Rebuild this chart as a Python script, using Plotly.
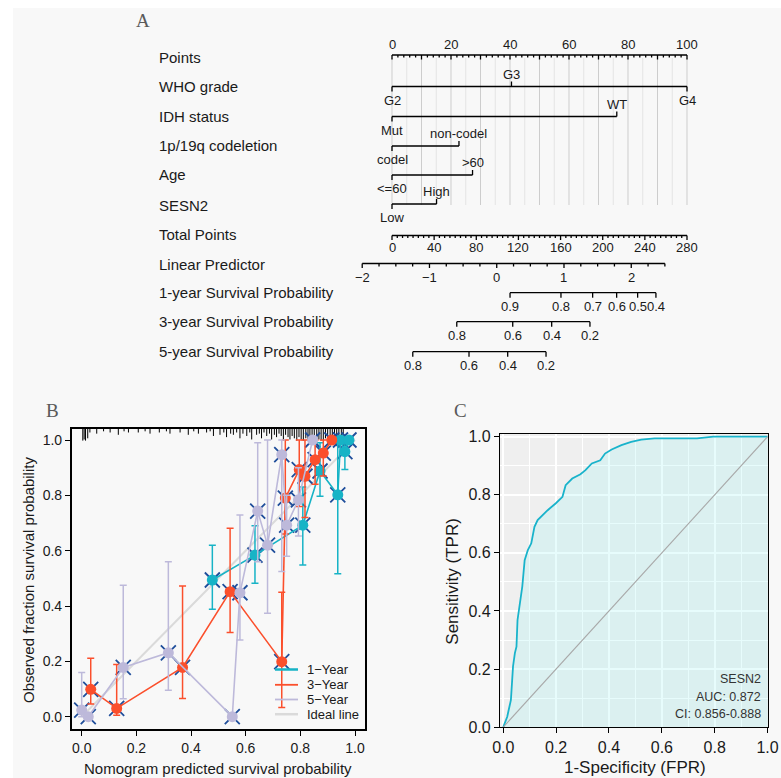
import plotly.graph_objects as go

W, H = 781, 778
FONT = "Liberation Sans, Arial, sans-serif"
SERIF = "Liberation Serif, Times New Roman, serif"
TXT = "#1a1a1a"

# ---------------- Panel A : nomogram data ----------------
row_names = ["Points", "WHO grade", "IDH status", "1p/19q codeletion", "Age", "SESN2",
             "Total Points", "Linear Predictor", "1-year Survival Probability",
             "3-year Survival Probability", "5-year Survival Probability"]
row_label_y = [57, 86, 116, 145, 174, 205, 234, 264, 292, 321.5, 351]

points_labels = [0, 20, 40, 60, 80, 100]

who_levels = ["G2", "G3", "G4"]
who_points = [0, 40.5, 100]
who_above = [False, True, False]
idh_levels = ["Mut", "WT"]
idh_points = [0, 76.2]
codel_levels = ["codel", "non-codel"]
codel_points = [0, 22.7]
age_levels = ["<=60", ">60"]
age_points = [0, 27.3]
sesn2_levels = ["Low", "High"]
sesn2_points = [0, 15.1]

total_points_max = 280
total_points_labels = [0, 40, 80, 120, 160, 200, 240, 280]

lp_labels = [-2, -1, 0, 1, 2]
lp_min, lp_max = -2.0, 2.5
lp_intercept_points = 35.5
lp_slope_points = 22.8

surv1_probs = ["0.9", "0.8", "0.7", "0.6", "0.5", "0.4"]
surv1_lp = [0.198, 0.955, 1.426, 1.783, 2.095, 2.367]
surv3_probs = ["0.8", "0.6", "0.4", "0.2"]
surv3_lp = [-0.594, 0.238, 0.817, 1.386]
surv5_probs = ["0.8", "0.6", "0.4", "0.2"]
surv5_lp = [-1.248, -0.412, 0.163, 0.733]

# ---------------- Panel B : calibration data ----------------
cal1_x = [0.478, 0.634, 0.809, 0.872, 0.937, 0.947, 0.963, 0.978]
cal1_y = [0.494, 0.584, 0.692, 0.888, 0.802, 1.0, 0.958, 1.0]
cal1_lo = [0.388, 0.482, 0.548, 0.797, 0.517, 1.0, 0.893, 1.0]
cal1_hi = [0.620, 0.690, 0.830, 0.990, 1.0, 1.0, 1.0, 1.0]

cal3_x = [0.033, 0.128, 0.369, 0.543, 0.732, 0.745, 0.796, 0.817, 0.854, 0.884, 0.915]
cal3_y = [0.099, 0.030, 0.178, 0.452, 0.199, 0.790, 0.893, 0.869, 0.929, 0.953, 1.0]
cal3_lo = [0.046, 0.005, 0.066, 0.304, 0.033, 0.660, 0.760, 0.720, 0.840, 0.870, 1.0]
cal3_hi = [0.211, 0.189, 0.472, 0.681, 0.450, 1.0, 1.0, 1.0, 1.0, 1.0, 1.0]

cal5_x = [0.0, 0.024, 0.152, 0.317, 0.551, 0.579, 0.644, 0.680, 0.732, 0.750, 0.793, 0.845]
cal5_y = [0.024, 0.0, 0.178, 0.231, 0.0, 0.448, 0.743, 0.620, 0.947, 0.692, 0.784, 1.0]
cal5_lo = [0.0, 0.0, 0.065, 0.096, 0.0, 0.277, 0.560, 0.374, 0.525, 0.580, 0.653, 1.0]
cal5_hi = [0.160, 0.0, 0.475, 0.560, 0.0, 0.729, 0.990, 1.0, 1.0, 0.800, 0.900, 1.0]

rug_pred = [0.004, 0.009, 0.014, 0.022, 0.030, 0.055, 0.080, 0.104, 0.134, 0.155, 0.171, 0.207,
            0.232, 0.250, 0.284, 0.310, 0.323, 0.360, 0.390, 0.410, 0.427, 0.457, 0.470, 0.482,
            0.506, 0.520, 0.530, 0.545, 0.555, 0.567, 0.579, 0.590, 0.604, 0.615, 0.622, 0.640,
            0.650, 0.658, 0.667, 0.677, 0.687, 0.695, 0.705, 0.713, 0.722, 0.730, 0.738, 0.746,
            0.755, 0.762, 0.770, 0.778, 0.787, 0.795, 0.803, 0.811, 0.820, 0.828, 0.835, 0.843,
            0.851, 0.860, 0.868, 0.876, 0.884, 0.892, 0.900, 0.909, 0.917, 0.925, 0.933, 0.941,
            0.950, 0.957]
rug_count = [10, 9, 10, 8, 3, 4, 2, 3, 5, 2, 3, 3,
             2, 4, 3, 2, 4, 3, 5, 2, 4, 3, 2, 6,
             5, 3, 7, 4, 5, 3, 8, 4, 6, 3, 9, 5,
             4, 8, 3, 6, 4, 9, 5, 7, 4, 6, 10, 5,
             7, 9, 6, 8, 10, 7, 9, 10, 8, 10, 9, 10,
             8, 10, 9, 10, 10, 8, 10, 9, 10, 8, 10, 9,
             7, 6]

legend_names = ["1\u2212Year", "3\u2212Year", "5\u2212Year", "Ideal line"]

# ---------------- Panel C : ROC data ----------------
roc_fpr = [0.0, 0.015, 0.029, 0.037, 0.044, 0.050, 0.054, 0.062, 0.072, 0.081, 0.093, 0.106,
           0.112, 0.118, 0.130, 0.149, 0.168, 0.199, 0.224, 0.236, 0.261, 0.292, 0.311, 0.335,
           0.367, 0.385, 0.410, 0.447, 0.484, 0.522, 0.572, 0.733, 0.795, 1.0]
roc_tpr = [0.0, 0.036, 0.094, 0.209, 0.255, 0.277, 0.369, 0.415, 0.484, 0.575, 0.610, 0.633,
           0.656, 0.690, 0.713, 0.730, 0.747, 0.771, 0.793, 0.833, 0.856, 0.871, 0.885, 0.908,
           0.919, 0.942, 0.956, 0.971, 0.982, 0.990, 0.994, 0.994, 1.0, 1.0]
roc_marker = "SESN2"
roc_auc = "0.872"
roc_ci = "0.856-0.888"

# ---------------- colours ----------------
C1 = "#17B3C6"
C3 = "#FB4F2C"
C5 = "#BDB9DA"
CIDEAL = "#DADADA"
CX = "#1F4E9B"
CROC = "#19B3CB"

fig = go.Figure()

# background (first so everything else is above it)
fig.add_shape(type="rect", xref="paper", yref="paper", x0=13 / W, x1=1, y0=0, y1=1 - 8 / H,
              fillcolor="#F8F8F8", line=dict(width=0), layer="below")


def lines(xs, ys, color, width, xa="x", ya="y"):
    fig.add_trace(go.Scatter(x=xs, y=ys, mode="lines", line=dict(color=color, width=width),
                             xaxis=xa, yaxis=ya, hoverinfo="skip", showlegend=False,
                             cliponaxis=False))


def label(x, y, text, size=13, xref="x", yref="y", xanchor="center", color=TXT,
          family=FONT, angle=0):
    fig.add_annotation(x=x, y=y, xref=xref, yref=yref, text=text, showarrow=False,
                       xanchor=xanchor, yanchor="middle", textangle=angle,
                       font=dict(family=family, size=size, color=color))


# ---------- Panel A ----------
gx_dark, gy_dark, gx_light, gy_light = [], [], [], []
for v in range(0, 101, 5):
    if v % 10 == 0:
        gx_dark += [v, v, None]; gy_dark += [58, 205, None]
    else:
        gx_light += [v, v, None]; gy_light += [58, 205, None]
lines(gx_light, gy_light, "#E4E4E4", 1)
lines(gx_dark, gy_dark, "#CDCDCD", 1)

PY = 55
tx, ty = [0, 100, None], [PY, PY, None]
for i in range(0, 51):
    v = i * 2
    ln = 4.5 if v % 10 == 0 else 2.5
    tx += [v, v, None]; ty += [PY, PY + ln, None]
lines(tx, ty, "black", 1.3)
for v in points_labels:
    label(v, 44, str(v))


def cat_var(pts, levels, yl, above_flags):
    xs, ys = [min(pts), max(pts), None], [yl, yl, None]
    for p, lev, ab in zip(pts, levels, above_flags):
        if ab:
            xs += [p, p, None]; ys += [yl, yl - 5, None]
            label(p, yl - 12.5, lev)
        else:
            xs += [p, p, None]; ys += [yl, yl + 5, None]
            label(p, yl + 13.5, lev)
    lines(xs, ys, "black", 1.3)


cat_var(who_points, who_levels, 86.5, who_above)
cat_var(idh_points, idh_levels, 116.5, [False, True])
cat_var(codel_points, codel_levels, 146, [False, True])
cat_var(age_points, age_levels, 175, [False, True])
cat_var(sesn2_points, sesn2_levels, 204, [False, True])

TY = 235.5
tp_scale = 100.0 / total_points_max
xs, ys = [0, total_points_max * tp_scale, None], [TY, TY, None]
for v in range(0, total_points_max + 1, 5):
    ln = 4.5 if v % 40 == 0 else 2.5
    xs += [v * tp_scale, v * tp_scale, None]; ys += [TY, TY + ln, None]
lines(xs, ys, "black", 1.3)
for v in total_points_labels:
    label(v * tp_scale, 247, str(v))


def lp2pts(lp):
    return lp_intercept_points + lp_slope_points * lp


LY = 263.5
xs, ys = [lp2pts(lp_min), lp2pts(lp_max), None], [LY, LY, None]
k = 0
while lp_min + k * 0.25 <= lp_max + 1e-9:
    v = lp_min + k * 0.25
    ln = 4.5 if abs(v - round(v)) < 1e-9 else 3
    xs += [lp2pts(v), lp2pts(v), None]; ys += [LY, LY + ln, None]
    k += 1
lines(xs, ys, "black", 1.3)
for v in lp_labels:
    label(lp2pts(v), 277, str(v).replace("-", "\u2212"))


def surv_axis(lps, labs, yl):
    pts = [lp2pts(v) for v in lps]
    xs, ys = [min(pts), max(pts), None], [yl, yl, None]
    for p in pts:
        xs += [p, p, None]; ys += [yl, yl + 5, None]
    lines(xs, ys, "black", 1.3)
    for p, t in zip(pts, labs):
        label(p, yl + 13.5, t)


surv_axis(surv1_lp, surv1_probs, 292.7)
surv_axis(surv3_lp, surv3_probs, 321.7)
surv_axis(surv5_lp, surv5_probs, 351.7)

for name, yy in zip(row_names, row_label_y):
    label(157 / W, yy, name, size=15, xref="paper", xanchor="left")

# ---------- Panel B ----------
lines([0, 1], [0, 1], CIDEAL, 2, "x2", "y2")

RUG_TOP = 1.0398
rx, ry = [], []
for p, n in zip(rug_pred, rug_count):
    rx += [p, p, None]; ry += [RUG_TOP, RUG_TOP - n * 0.0042, None]
lines(rx, ry, "black", 1, "x2", "y2")

for xs_, ys_ in [(cal1_x, cal1_y), (cal3_x, cal3_y), (cal5_x, cal5_y)]:
    fig.add_trace(go.Scatter(x=xs_, y=ys_, mode="markers", xaxis="x2", yaxis="y2",
                             marker=dict(symbol="x-thin", size=15, line=dict(color=CX, width=1.8)),
                             hoverinfo="skip", showlegend=False))

for xs_, ys_, lo, hi, col in [(cal1_x, cal1_y, cal1_lo, cal1_hi, C1),
                              (cal3_x, cal3_y, cal3_lo, cal3_hi, C3),
                              (cal5_x, cal5_y, cal5_lo, cal5_hi, C5)]:
    fig.add_trace(go.Scatter(
        x=xs_, y=ys_, mode="lines+markers", xaxis="x2", yaxis="y2",
        line=dict(color=col, width=1.6),
        marker=dict(symbol="circle", size=11, color=col),
        error_y=dict(type="data", symmetric=False,
                     array=[h - y for h, y in zip(hi, ys_)],
                     arrayminus=[y - l for l, y in zip(lo, ys_)],
                     color=col, thickness=1.5, width=3.5),
        hoverinfo="skip", showlegend=False))

leg_cols = [C1, C3, C5, CIDEAL]
leg_w = [2.5, 1.8, 1.8, 2.5]
leg_y = [669.5, 684.8, 699.5, 714.2]
for nm, col, wd, yy in zip(legend_names, leg_cols, leg_w, leg_y):
    yp = 1 - yy / H
    fig.add_shape(type="line", xref="paper", yref="paper", x0=275 / W, x1=298 / W,
                  y0=yp, y1=yp, line=dict(color=col, width=wd))
    label(305 / W, yp, nm, size=13, xref="paper", yref="paper", xanchor="left")

# ---------- Panel C ----------
fig.add_shape(type="rect", xref="x3 domain", yref="y3 domain", x0=0, x1=1, y0=0, y1=1,
              fillcolor="#EFEFEF", line=dict(width=0), layer="below")
fig.add_trace(go.Scatter(x=roc_fpr, y=roc_tpr, mode="lines", xaxis="x3", yaxis="y3",
                         line=dict(color=CROC, width=1.8), fill="tozeroy",
                         fillcolor="rgba(170,246,246,0.28)", hoverinfo="skip",
                         showlegend=False))
lines([0, 1], [0, 1], "#A8A8A8", 1.1, "x3", "y3")

for i, t in enumerate([roc_marker, "AUC: " + roc_auc, "CI: " + roc_ci]):
    label(763 / W, 1 - (679.3 + 17.5 * i) / H, t, size=12.5, xref="paper", yref="paper",
          xanchor="right", color="#333333")

# ---------- titles / panel letters ----------
for t, x, y in [("A", 143, 20), ("B", 52, 410), ("C", 461, 410)]:
    label(x / W, 1 - y / H, t, size=19, xref="paper", yref="paper", color="#5a5a5a",
          family=SERIF)

label(28 / W, 1 - 580 / H, "Observed fraction survival probability", size=15,
      xref="paper", yref="paper", angle=-90)
label(218 / W, 1 - 768 / H, "Nomogram predicted survival probability", size=15,
      xref="paper", yref="paper")
label(451.7 / W, 1 - 581 / H, "Sensitivity (TPR)", size=17, xref="paper", yref="paper",
      angle=-90)
label(635 / W, 1 - 767 / H, "1-Specificity (FPR)", size=17, xref="paper", yref="paper")

ticks01 = [0, 0.2, 0.4, 0.6, 0.8, 1.0]
common_b = dict(showline=True, mirror=True, linecolor="black", linewidth=1.5,
                ticks="outside", ticklen=5, tickwidth=1.2, tickcolor="black",
                tickvals=ticks01, ticktext=["%.1f" % v for v in ticks01],
                showgrid=False, zeroline=False, automargin=False,
                tickfont=dict(family=FONT, size=14, color=TXT))
common_c = dict(showline=True, mirror=True, linecolor="black", linewidth=1.2,
                ticks="outside", ticklen=5, tickwidth=1.2, tickcolor="black",
                tickvals=ticks01, ticktext=["%.1f" % v for v in ticks01],
                showgrid=True, gridcolor="white", gridwidth=2,
                minor=dict(tickvals=[0.1, 0.3, 0.5, 0.7, 0.9], showgrid=True,
                           gridcolor="white", gridwidth=1, ticks=""),
                zeroline=False, automargin=False, ticklabeloverflow="allow",
                tickfont=dict(family=FONT, size=16, color=TXT))

fig.update_layout(
    width=W, height=H, margin=dict(l=0, r=0, t=0, b=0),
    paper_bgcolor="white", plot_bgcolor="rgba(0,0,0,0)",
    showlegend=False,
    xaxis=dict(domain=[0, 1], range=[-392 / 2.95, (W - 392) / 2.95], visible=False,
               fixedrange=True),
    yaxis=dict(domain=[1 - 390 / H, 1], range=[390, 0], visible=False, fixedrange=True),
    xaxis2=dict(domain=[71.7 / W, 365 / W], range=[-0.0366, 1.0366], anchor="y2", **common_b),
    yaxis2=dict(domain=[1 - 729 / H, 1 - 429 / H], range=[-0.0445, 1.0398], anchor="x2",
                **common_b),
    xaxis3=dict(domain=[500 / W, 768 / W], range=[-0.0123, 1.0015], anchor="y3", **common_c),
    yaxis3=dict(domain=[1 - 727.3 / H, 1 - 434 / H], range=[-0.0005, 1.0093], anchor="x3",
                **common_c),
)

fig.write_html("out.html")
